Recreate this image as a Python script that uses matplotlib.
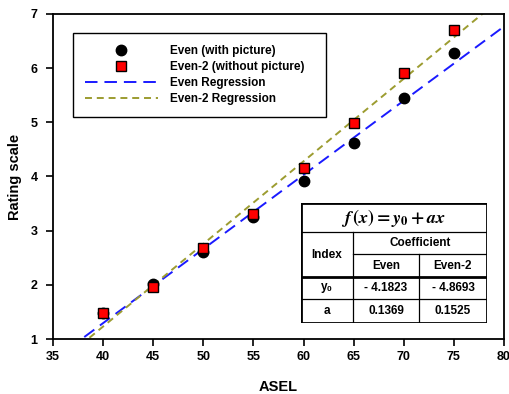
import numpy as np
import matplotlib
matplotlib.use('Agg')
import matplotlib.pyplot as plt
from matplotlib.lines import Line2D

# ---- data ----
asel = [40, 45, 50, 55, 60, 65, 70, 75]
even = [1.48, 2.01, 2.60, 3.25, 3.92, 4.62, 5.45, 6.28]
even2 = [1.48, 1.96, 2.68, 3.31, 4.16, 4.99, 5.92, 6.70]

# regression coefficients (from the table)
y0_even, a_even = -4.1823, 0.1369
y0_even2, a_even2 = -4.8693, 0.1525

table_cols = ['Even', 'Even-2']
table_y0 = ['- 4.1823', '- 4.8693']
table_a = ['0.1369', '0.1525']

x_ticks = [35, 40, 45, 50, 55, 60, 65, 70, 75, 80]
y_ticks = [1, 2, 3, 4, 5, 6, 7]

OLIVE = '#9c9c30'
BLUE = '#1a1aff'


def main():
    plt.rcParams['font.family'] = ['Liberation Sans', 'DejaVu Sans']
    plt.rcParams['font.weight'] = 'bold'
    plt.rcParams['lines.scale_dashes'] = False
    plt.rcParams['mathtext.fontset'] = 'stix'

    fig = plt.figure(figsize=(5.09, 3.94), dpi=100)
    ax = fig.add_axes([53 / 509, 1 - 339 / 394, 451 / 509, 325 / 394])

    xr = np.linspace(35, 80, 200)
    ax.plot(xr, y0_even + a_even * xr, color=BLUE, lw=1.4,
            dashes=(9, 5), label='Even Regression', zorder=2)
    ax.plot(xr, y0_even2 + a_even2 * xr, color=OLIVE, lw=1.4,
            dashes=(5, 3.5), label='Even-2 Regression', zorder=2)
    ax.plot(asel, even, 'o', color='black', ms=7.5, zorder=3,
            label='Even (with picture)')
    ax.plot(asel, even2, 's', mfc='red', mec='black', mew=1.0, ms=6.5,
            zorder=4, label='Even-2 (without picture)')

    ax.set_xlim(35, 80)
    ax.set_ylim(1, 7)
    ax.set_xticks(x_ticks)
    ax.set_yticks(y_ticks)
    ax.tick_params(direction='out', length=5, width=1.2, labelsize=9)
    ax.tick_params(axis='y', pad=6)
    for s in ax.spines.values():
        s.set_linewidth(1.3)
    ax.set_xlabel('ASEL', fontsize=10.5, fontweight='bold')
    ax.set_ylabel('Rating scale', fontsize=10.5, fontweight='bold')
    ax.xaxis.set_label_coords(225 / 451, -41 / 325)
    ax.yaxis.set_label_coords(-31 / 451, 0.5)

    handles = [
        Line2D([], [], ls='none', marker='o', color='black', ms=7.5),
        Line2D([], [], ls='none', marker='s', mfc='red', mec='black', mew=1.0, ms=6.5),
        Line2D([], [], color=BLUE, lw=1.4, dashes=(9, 5)),
        Line2D([], [], color=OLIVE, lw=1.4, dashes=(5, 3.5)),
    ]
    labels = ['Even (with picture)', 'Even-2 (without picture)',
              'Even Regression', 'Even-2 Regression']
    leg = ax.legend(handles, labels, loc='upper left',
                    bbox_to_anchor=(20 / 451, 1 - 19 / 325, 253 / 451, 0),
                    mode='expand', borderaxespad=0, fancybox=False,
                    edgecolor='black', framealpha=1, fontsize=8.5,
                    handlelength=6.2, handletextpad=1.0, labelspacing=0.35,
                    borderpad=1.0)
    leg.get_frame().set_linewidth(1.0)

    # ---- coefficient table ----
    tx = fig.add_axes([301 / 509, 1 - 323 / 394, 186 / 509, 120 / 394])
    tx.set_xlim(301, 487)
    tx.set_ylim(323, 203)
    tx.axis('off')
    thin = dict(color='black', lw=0.9)
    thick = dict(color='black', lw=2.0)
    # outer frame
    tx.plot([301, 487, 487, 301, 301], [203, 203, 323, 323, 203], **thick)
    tx.plot([301, 487], [232, 232], **thin)
    tx.plot([353, 487], [254, 254], **thin)
    tx.plot([301, 487], [277, 277], **thick)
    tx.plot([301, 487], [299, 299], **thin)
    tx.plot([353, 353], [232, 323], **thin)
    tx.plot([419, 419], [254, 323], **thin)

    tx.text(394, 218, r'$f\,(x) = y_{0} + ax$', ha='center', va='center',
            fontsize=13)
    tx.text(327, 254.5, 'Index', ha='center', va='center', fontsize=8.5)
    tx.text(420, 243, 'Coefficient', ha='center', va='center', fontsize=8.5)
    col_x = [386, 453]
    for cx, name, v0, va in zip(col_x, table_cols, table_y0, table_a):
        tx.text(cx, 266, name, ha='center', va='center', fontsize=8.5)
        tx.text(cx, 288, v0, ha='center', va='center', fontsize=8.5)
        tx.text(cx, 311, va, ha='center', va='center', fontsize=8.5)
    tx.text(327, 288, r'y$_{\mathregular{0}}$', ha='center', va='center', fontsize=8.5)
    tx.text(327, 311, 'a', ha='center', va='center', fontsize=8.5)

    fig.savefig('out.png', dpi=100)


if __name__ == "__main__":
    main()
